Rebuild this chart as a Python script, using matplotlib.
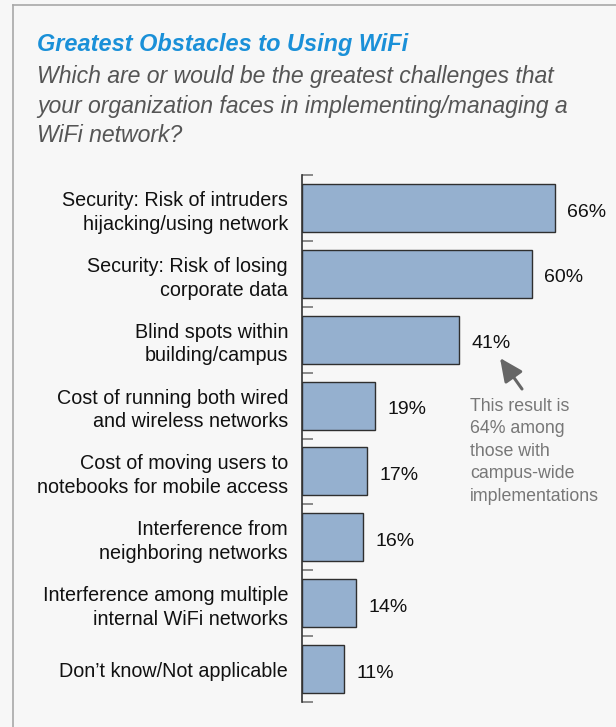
import matplotlib
matplotlib.use("Agg")
import matplotlib.pyplot as plt
from matplotlib.lines import Line2D
from matplotlib.patches import FancyArrowPatch

plt.rcParams['font.family'] = ['Liberation Sans', 'DejaVu Sans']

categories = [
    "Security: Risk of intruders\nhijacking/using network",
    "Security: Risk of losing\ncorporate data",
    "Blind spots within\nbuilding/campus",
    "Cost of running both wired\nand wireless networks",
    "Cost of moving users to\nnotebooks for mobile access",
    "Interference from\nneighboring networks",
    "Interference among multiple\ninternal WiFi networks",
    "Don\u2019t know/Not applicable",
]
values = [66, 60, 41, 19, 17, 16, 14, 11]
value_labels = ["66%", "60%", "41%", "19%", "17%", "16%", "14%", "11%"]

title = "Greatest Obstacles to Using WiFi"
subtitle_lines = ["Which are or would be the greatest challenges that",
                  "your organization faces in implementing/managing a",
                  "WiFi network?"]
note = "This result is\n64% among\nthose with\ncampus-wide\nimplementations"

W, H = 616, 727
fig = plt.figure(figsize=(W / 100, H / 100), dpi=100)
fig.patch.set_facecolor("#f7f7f7")

# frame lines (left and top)
fig.add_artist(Line2D([13 / W, 13 / W], [0, 1 - 5 / H], color="#a8a8a8", lw=1.2, transform=fig.transFigure))
fig.add_artist(Line2D([13 / W, 1], [1 - 5 / H, 1 - 5 / H], color="#a8a8a8", lw=1.2, transform=fig.transFigure))

# axes geometry in pixels
ax_left, ax_top, ax_bottom = 302, 175, 702
px_per_pct = 3.83
xmax = 80
ax = fig.add_axes([ax_left / W, 1 - ax_bottom / H, xmax * px_per_pct / W, (ax_bottom - ax_top) / H])
ax.set_facecolor("none")

n = len(values)
pos = list(range(n))
ax.barh(pos, values, height=0.73, color="#95b0cf", edgecolor="#2f2f2f", linewidth=1.0)
ax.set_xlim(0, xmax)
ax.set_ylim(n - 0.5, -0.5)

for s in ["top", "right", "bottom"]:
    ax.spines[s].set_visible(False)
ax.spines["left"].set_color("#333333")
ax.spines["left"].set_linewidth(1.2)
ax.set_xticks([])

# boundary ticks
ax.set_yticks([i - 0.5 for i in range(n + 1)])
ax.set_yticklabels([])
ax.tick_params(axis="y", which="major", direction="in", length=8, width=1.2, color="#777777")
# category labels as minor tick labels
ax.set_yticks(pos, minor=True)
ax.set_yticklabels(categories, minor=True, fontsize=14.2, color="#111111", ha="right", linespacing=1.32)
ax.tick_params(axis="y", which="minor", length=0, pad=10)

for p, v, lab in zip(pos, values, value_labels):
    ax.annotate(lab, xy=(v, p), xytext=(9, -3), textcoords="offset points",
                va="center", ha="left", fontsize=14, color="#111111")

# title and subtitle
fig.text(37 / W, 1 - 45 / H, title, fontsize=16.9, fontweight="bold", fontstyle="italic",
         color="#1a90d8", ha="left", va="center")
for i, line in enumerate(subtitle_lines):
    fig.text(37 / W, 1 - (77 + 29.5 * i) / H, line, fontsize=16.6, fontstyle="italic",
             color="#555555", ha="left", va="center")

# annotation note with arrow
fig.text(470 / W, 1 - 398 / H, note, fontsize=12.8, color="#777777", ha="left", va="top", linespacing=1.42)
fig.add_artist(FancyArrowPatch(
    (522 / W, 1 - 389 / H), (500 / W, 1 - 358 / H), transform=fig.transFigure,
    arrowstyle="-|>,head_length=14,head_width=6.5", color="#666666", lw=2.2,
    mutation_scale=1, shrinkA=0, shrinkB=0))

fig.savefig("out.png", dpi=100, facecolor=fig.get_facecolor())
